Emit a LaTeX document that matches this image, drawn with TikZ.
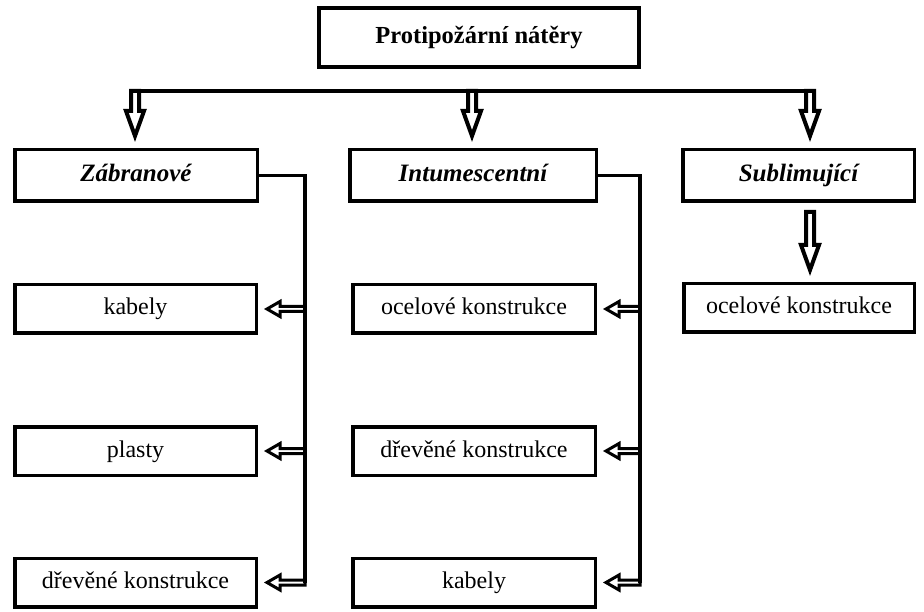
\documentclass[tikz,border=0pt]{standalone}
\usepackage{fontspec}
\setmainfont{Liberation Serif}
\usetikzlibrary{calc}

\tikzset{
  box/.style={draw, line width=3.5pt, inner sep=0pt, minimum height=48.5pt,
    text height=17pt, text depth=5pt, font=\fontsize{24}{28}\selectfont},
  headbox/.style={box, minimum height=51.5pt,
    font=\fontsize{25}{30}\selectfont\bfseries\itshape},
  conn/.style={line width=3.5pt},
  % hollow arrow pointing down (x from start, y of tip from target)
  downarrow/.style={draw, line width=4pt, line join=miter, to path={
    let \p1=(\tikztostart), \p2=(\tikztotarget) in
    (\x1-4pt,\y1) -- (\x1-4pt,\y2+37pt) -- (\x1-9pt,\y2+37pt) -- (\x1,\y2+12pt)
    -- (\x1+9pt,\y2+37pt) -- (\x1+4pt,\y2+37pt) -- (\x1+4pt,\y1) -- cycle}},
  % hollow arrow pointing left (x from start, y from target)
  leftarrow/.style={draw, line width=3pt, line join=miter, to path={
    let \p1=(\tikztostart), \p2=(\tikztotarget) in
    (\x1,\y2+2.5pt) -- (\x2+22pt,\y2+2.5pt) -- (\x2+22pt,\y2+7.5pt) -- (\x2+9pt,\y2)
    -- (\x2+22pt,\y2-7.5pt) -- (\x2+22pt,\y2-2.5pt) -- (\x1,\y2-2.5pt) -- cycle}}
}

\begin{document}
\begin{tikzpicture}[x=1pt, y=-1pt]
  \useasboundingbox (0,0) rectangle (924,612);

  % title
  \node[draw, line width=4pt, minimum width=320pt, minimum height=59pt,
    text height=17pt, text depth=5pt,
    font=\fontsize{24.5}{29}\selectfont\bfseries] (title) at (479,38)
    {Protipožární nátěry};

  % three kinds
  \node[headbox, minimum width=242.5pt] (zab) at (136,175.5) {Zábranové};
  \node[headbox, minimum width=246.5pt] (intu) at (473,175.5) {Intumescentní};
  \node[headbox, minimum width=231.5pt] (subl) at (798.5,175.5) {Sublimující};

  % left column
  \node[box, minimum width=241.5pt] (kab1) at (135.5,309) {kabely};
  \node[box, minimum width=241.5pt] (pla) at (135.5,451) {plasty};
  \node[box, minimum width=241.5pt] (dre1) at (135.5,582.5) {dřevěné konstrukce};

  % middle column
  \node[box, minimum width=242.5pt] (oce1) at (474,309) {ocelové konstrukce};
  \node[box, minimum width=242.5pt] (dre2) at (474,451) {dřevěné konstrukce};
  \node[box, minimum width=242.5pt] (kab2) at (474,582.5) {kabely};

  % right column
  \node[box, minimum width=230.5pt] (oce2) at (799,308) {ocelové konstrukce};

  % bus line under the title
  \coordinate (b1) at (135,91);
  \coordinate (b2) at (472,91);
  \coordinate (b3) at (810,91);
  \coordinate (s3) at (810,212);
  \draw[conn] (129,91) -- (816,91);
  \draw[downarrow] (b1) to (zab.north);
  \draw[downarrow] (b2) to (intu.north);
  \draw[downarrow] (b3) to (subl.north);
  \draw[downarrow] (s3) to (oce2.north);

  % side lines
  \coordinate (zr) at (305,175.5);
  \coordinate (ir) at (640,175.5);
  \draw[conn] (zab.east) -| (zr |- dre1.east);
  \draw[conn] (intu.east) -| (ir |- kab2.east);
  \foreach \b in {kab1, pla, dre1}
    \draw[leftarrow] (zr) to (\b.east);
  \foreach \b in {oce1, dre2, kab2}
    \draw[leftarrow] (ir) to (\b.east);
\end{tikzpicture}
\end{document}
